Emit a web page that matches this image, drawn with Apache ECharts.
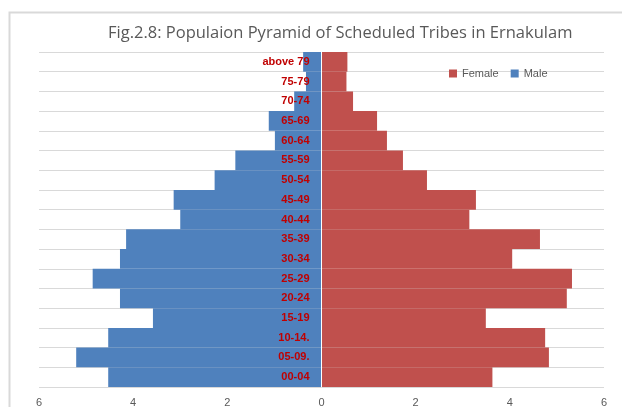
<!DOCTYPE html>
<html>
<head>
<meta charset="utf-8">
<script src="https://cdn.jsdelivr.net/npm/echarts@6/dist/echarts.min.js"></script>
<style>
  html, body { margin: 0; padding: 0; background: #fff; }
  #main { width: 622px; height: 407px; }
</style>
</head>
<body>
<div id="main"></div>
<script>
const ageGroups = ['00-04', '05-09.', '10-14.', '15-19', '20-24', '25-29', '30-34', '35-39',
  '40-44', '45-49', '50-54', '55-59', '60-64', '65-69', '70-74', '75-79', 'above 79'];
const male = [4.53, 5.21, 4.53, 3.58, 4.28, 4.86, 4.28, 4.15,
  3.00, 3.14, 2.27, 1.83, 0.99, 1.12, 0.58, 0.33, 0.39];
const female = [3.63, 4.83, 4.75, 3.49, 5.21, 5.32, 4.05, 4.64,
  3.14, 3.28, 2.24, 1.73, 1.39, 1.18, 0.67, 0.53, 0.55];
const xTicks = [-6, -4, -2, 0, 2, 4, 6];

const chart = echarts.init(document.getElementById('main'));

chart.setOption({
  animation: false,
  textStyle: { fontFamily: 'Liberation Sans' },
  title: {
    text: 'Fig.2.8: Populaion Pyramid of Scheduled Tribes in Ernakulam',
    left: 103,
    top: 20,
    textStyle: { color: '#595959', fontSize: 16.5, fontWeight: 'normal', fontFamily: 'Open Sans' }
  },
  // chart area border
  graphic: [{
    type: 'rect',
    shape: { x: 9.5, y: 12.5, width: 640, height: 420 },
    style: { fill: 'none', stroke: '#d9d9d9', lineWidth: 2 },
    silent: true
  }],
  legend: {
    data: ['Female', 'Male'],
    left: 446,
    top: 66,
    itemWidth: 8,
    itemHeight: 8,
    itemGap: 12,
    icon: 'rect',
    padding: [2, 3],
    textStyle: { color: '#595959', fontSize: 11 }
  },
  grid: { left: 39, right: 18, top: 52, bottom: 20, outerBoundsMode: 'none', containLabel: false },
  xAxis: {
    type: 'value',
    min: xTicks[0],
    max: xTicks[xTicks.length - 1],
    interval: 2,
    axisLine: { show: false },
    axisTick: { show: false },
    splitLine: { show: false },
    axisLabel: {
      color: '#595959',
      fontSize: 11,
      margin: 10,
      formatter: v => Math.abs(v)
    }
  },
  yAxis: {
    type: 'category',
    data: ageGroups,
    axisLine: { show: false },
    axisTick: { show: false },
    axisLabel: { show: false },
    splitLine: { show: true, lineStyle: { color: '#d9d9d9', width: 1 } }
  },
  series: [
    {
      name: 'Female',
      type: 'bar',
      stack: 'pop',
      barCategoryGap: 0,
      itemStyle: { color: '#c0504d' },
      data: female,
      markLine: {
        silent: true,
        symbol: 'none',
        label: { show: false },
        lineStyle: { color: '#ffffff', width: 1, type: 'solid' },
        data: [{ xAxis: 0 }]
      }
    },
    {
      name: 'Male',
      type: 'bar',
      stack: 'pop',
      barCategoryGap: 0,
      itemStyle: { color: '#4f81bd' },
      data: male.map(v => -v),
      // age labels sit next to the zero line
      label: {
        show: true,
        position: 'insideRight',
        distance: 12,
        color: '#c00000',
        fontWeight: 'bold',
        fontSize: 11,
        formatter: p => ageGroups[p.dataIndex]
      }
    }
  ]
});
</script>
</body>
</html>
